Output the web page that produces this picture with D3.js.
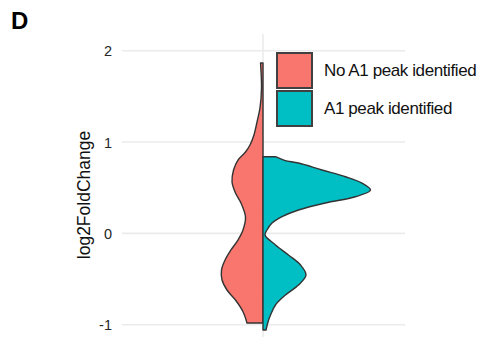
<!DOCTYPE html>
<html>
<head>
<meta charset="utf-8">
<script src="https://cdn.jsdelivr.net/npm/d3@7"></script>
<style>
  html, body { margin: 0; padding: 0; background: #fff; }
  svg { display: block; font-family: "Liberation Sans", Arial, Helvetica, sans-serif; }
</style>
</head>
<body>
<svg id="chart" width="481" height="337"></svg>
<script>
// Groups and their fill colours
const groups = ["No A1 peak identified", "A1 peak identified"];
const groupColors = ["#F8766D", "#00BFC4"];

// Y axis ticks
const yTicks = [-1, 0, 1, 2];

// Kernel density profile of log2FoldChange, "No A1 peak identified" (left half)
const noPeakY = [1.865, 1.59, 1.373, 1.219, 1.077, 0.968, 0.891, 0.803, 0.694, 0.562, 0.442, 0.333, 0.179, 0.037, -0.073, -0.182, -0.292, -0.401, -0.511, -0.620, -0.730, -0.858, -0.981];
const noPeakDensity = [0.023, 0.014, 0.028, 0.056, 0.084, 0.121, 0.163, 0.233, 0.274, 0.288, 0.256, 0.205, 0.163, 0.186, 0.233, 0.298, 0.353, 0.386, 0.381, 0.335, 0.256, 0.186, 0.149];

// Kernel density profile of log2FoldChange, "A1 peak identified" (right half)
const peakY = [0.839, 0.800, 0.770, 0.694, 0.620, 0.551, 0.475, 0.401, 0.333, 0.256, 0.183, 0.113, 0.037, -0.018, -0.127, -0.237, -0.346, -0.456, -0.565, -0.675, -0.784, -0.894, -0.967, -1.058];
const peakDensity = [0.116, 0.200, 0.330, 0.549, 0.767, 0.921, 1.000, 0.860, 0.581, 0.330, 0.177, 0.084, 0.037, 0.019, 0.116, 0.237, 0.349, 0.400, 0.330, 0.209, 0.116, 0.070, 0.047, 0.028];

const svg = d3.select("#chart");

const panel = { left: 122, right: 405 };
const centerX = (panel.left + panel.right) / 2 - 0.5;

const y = d3.scaleLinear().domain([-1, 2]).range([324.7, 50.7]);
const halfWidth = d3.scaleLinear().domain([0, 1]).range([0, 107.5]);

// Grid lines
const grid = svg.append("g");
grid.selectAll("line.h")
  .data(yTicks)
  .join("line")
  .attr("class", "h")
  .attr("x1", panel.left).attr("x2", panel.right)
  .attr("y1", d => y(d)).attr("y2", d => y(d))
  .attr("stroke", "#EBEBEB").attr("stroke-width", 1.6);
grid.append("line")
  .attr("x1", centerX).attr("x2", centerX)
  .attr("y1", 34).attr("y2", 337)
  .attr("stroke", "#EBEBEB").attr("stroke-width", 1.6);

// Split violin halves
const leftArea = d3.area()
  .y(d => y(d.y))
  .x0(d => centerX - halfWidth(d.d))
  .x1(() => centerX)
  .curve(d3.curveCatmullRom.alpha(0.5));
const rightArea = d3.area()
  .y(d => y(d.y))
  .x0(() => centerX)
  .x1(d => centerX + halfWidth(d.d))
  .curve(d3.curveCatmullRom.alpha(0.5));

const noPeak = noPeakY.map((v, i) => ({ y: v, d: noPeakDensity[i] }));
const peak = peakY.map((v, i) => ({ y: v, d: peakDensity[i] }));

svg.append("path")
  .datum(noPeak)
  .attr("d", leftArea)
  .attr("fill", groupColors[0])
  .attr("stroke", "#333333").attr("stroke-width", 1.4)
  .attr("stroke-linejoin", "round");
svg.append("path")
  .datum(peak)
  .attr("d", rightArea)
  .attr("fill", groupColors[1])
  .attr("stroke", "#333333").attr("stroke-width", 1.4)
  .attr("stroke-linejoin", "round");

// Y axis labels
const yAxis = d3.axisLeft(y).tickValues(yTicks).tickSize(0).tickPadding(0).tickFormat(d => String(d));
const axisG = svg.append("g").attr("transform", "translate(112,0)").call(yAxis);
axisG.select(".domain").remove();
axisG.selectAll("text")
  .attr("font-size", 14.5)
  .attr("font-family", "Liberation Sans, Arial, sans-serif")
  .attr("fill", "#262626")
  .attr("dy", "0.36em");

// Axis title
svg.append("text")
  .attr("transform", "translate(90,195) rotate(-90)")
  .attr("text-anchor", "middle")
  .attr("font-size", 17.5)
  .attr("fill", "#111")
  .text("log2FoldChange");

// Panel letter
svg.append("text")
  .attr("x", 11).attr("y", 29)
  .attr("font-size", 24)
  .attr("font-weight", "bold")
  .attr("fill", "#000")
  .text("D");

// Legend
const legend = svg.append("g");
const keySize = 35, keyStep = 38;
groups.forEach((g, i) => {
  legend.append("rect")
    .attr("x", 277).attr("y", 53 + i * keyStep)
    .attr("width", keySize).attr("height", keySize)
    .attr("fill", groupColors[i])
    .attr("stroke", "#404040").attr("stroke-width", 2);
  legend.append("text")
    .attr("x", 324).attr("y", 75.5 + i * keyStep)
    .attr("font-size", 17)
    .attr("letter-spacing", "-0.4px")
    .attr("fill", "#111")
    .text(g);
});
</script>
</body>
</html>
